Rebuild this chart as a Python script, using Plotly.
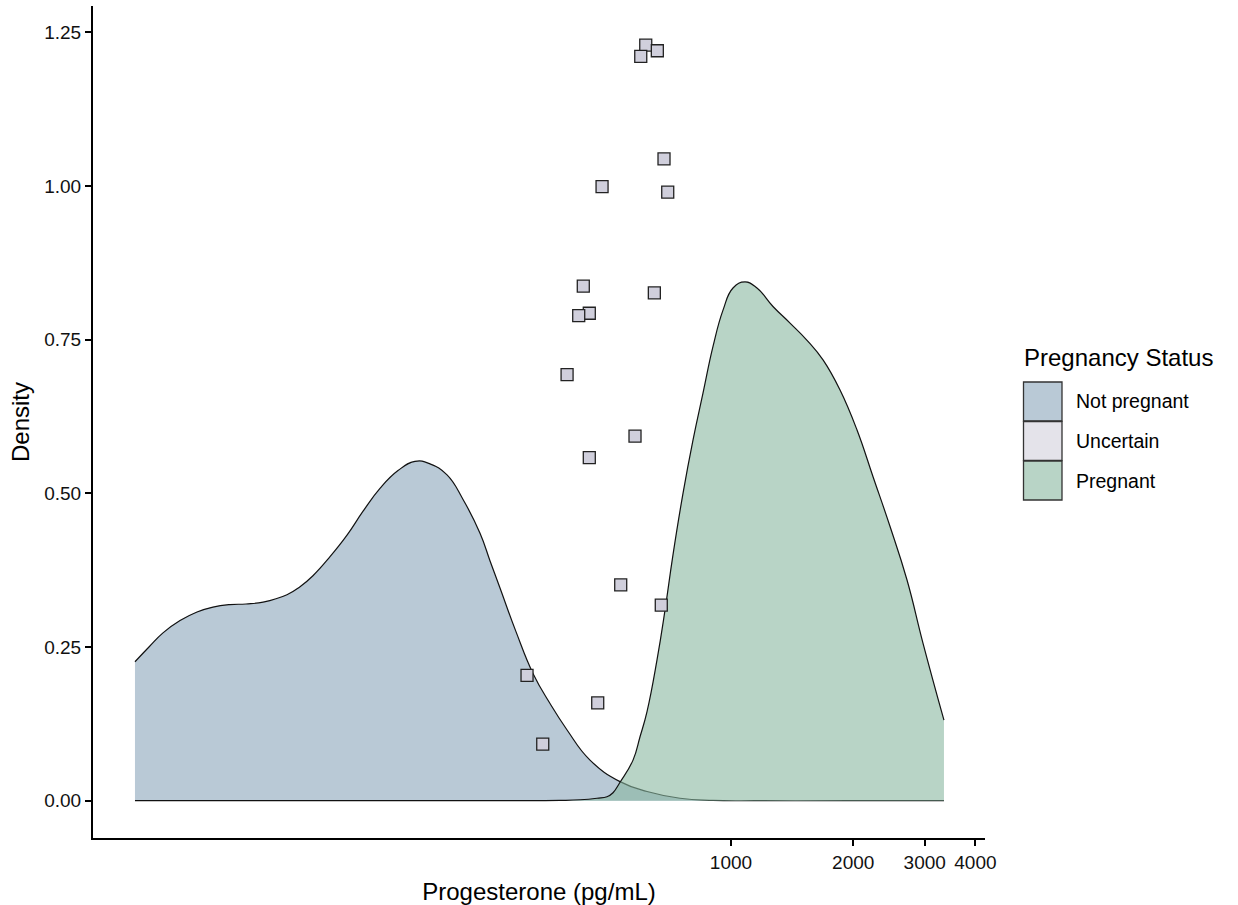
import plotly.graph_objects as go

# ---- data ----
# Not pregnant density (x in pg/mL, density)
np_x = [34.04, 36.85, 39.9, 43.95, 48.4, 52.97, 58.3, 63.9, 70.4, 80.6, 86.8, 93.4,
        102.9, 113.3, 124.1, 136.6, 151.3, 166.6, 181.4, 199.8, 218.8, 240.9, 255.0,
        269.8, 295.4, 325.3, 358.3, 394.7, 449.5, 532.9, 621.1, 748.8, 903.0, 1178.8,
        1964.0, 3346.0]
np_y = [0.226, 0.250, 0.273, 0.293, 0.307, 0.315, 0.319, 0.320, 0.323, 0.335, 0.348, 0.366,
        0.397, 0.432, 0.471, 0.508, 0.537, 0.552, 0.548, 0.530, 0.490, 0.435, 0.390,
        0.346, 0.275, 0.207, 0.158, 0.115, 0.066, 0.031, 0.015, 0.004, 0.0005, 0.0,
        0.0, 0.0]

# Pregnant density
pg_x = [34.04, 153.0, 379.3, 424.9, 467.7, 495.0, 512.2, 532.9, 573.7, 596.9, 621.1,
        657.3, 687.8, 719.6, 761.7, 806.3, 853.1, 903.0, 955.7, 1011.4, 1082.6, 1158.8,
        1268.9, 1397.7, 1539.1, 1685.3, 1855.9, 2043.5, 2237.8, 2464.6, 2713.6, 2971.6,
        3346.0]
pg_y = [0.0, 0.0, 0.0005, 0.0015, 0.004, 0.0065, 0.013, 0.030, 0.066, 0.104, 0.145,
        0.229, 0.310, 0.400, 0.500, 0.587, 0.663, 0.739, 0.798, 0.834, 0.844, 0.834,
        0.804, 0.777, 0.749, 0.717, 0.668, 0.603, 0.527, 0.446, 0.359, 0.256,
        0.131]

# Uncertain samples (points)
unc_x = [616.6, 658.5, 599.4, 683.9, 481.3, 698.5, 432.7, 647.4, 447.7, 421.6, 394.7,
         580.2, 447.7, 535.0, 673.4, 314.5, 469.6, 343.8]
unc_y = [1.229, 1.220, 1.211, 1.044, 0.999, 0.990, 0.837, 0.826, 0.793, 0.789, 0.693,
         0.593, 0.558, 0.351, 0.318, 0.204, 0.159, 0.092]

x_ticks = [1000, 2000, 3000, 4000]
x_tick_labels = ["1000", "2000", "3000", "4000"]
y_ticks = [0, 0.25, 0.5, 0.75, 1.0, 1.25]
y_tick_labels = ["0.00", "0.25", "0.50", "0.75", "1.00", "1.25"]

legend_labels = ["Not pregnant", "Uncertain", "Pregnant"]
legend_colors = ["#B9C9D6", "#E4E3EA", "#B8D4C6"]

FONT = "Liberation Sans, Arial, Helvetica, sans-serif"

fig = go.Figure()
fig.add_trace(go.Scatter(
    x=np_x, y=np_y, mode="lines", fill="tozeroy", name="Not pregnant",
    fillcolor="rgba(138,165,187,0.6)",
    line=dict(color="#111111", width=1.2, shape="spline", smoothing=1.3),
    showlegend=False, hoverinfo="skip"))
fig.add_trace(go.Scatter(
    x=pg_x, y=pg_y, mode="lines", fill="tozeroy", name="Pregnant",
    fillcolor="rgba(137,183,160,0.6)",
    line=dict(color="#111111", width=1.2, shape="spline", smoothing=1.3),
    showlegend=False, hoverinfo="skip"))
fig.add_trace(go.Scatter(
    x=unc_x, y=unc_y, mode="markers", name="Uncertain",
    marker=dict(symbol="square", size=12, color="#D0CFDC",
                line=dict(color="#222222", width=1.3)),
    showlegend=False))

# plot area geometry (pixels)
L, R, T, B = 93, 985, 6, 838
W, H = 1238, 905
pw, ph = R - L, B - T


def px(xp):
    return (xp - L) / pw


def py(yp):
    return (B - yp) / ph


shapes = []
annotations = []
annotations.append(dict(x=px(1022), y=py(357), xref="paper", yref="paper",
                        text="Pregnancy Status", showarrow=False, xanchor="left",
                        yanchor="middle", font=dict(family=FONT, size=24, color="#000000")))
box_tops = [382, 421.5, 461]
for lab, col, top in zip(legend_labels, legend_colors, box_tops):
    shapes.append(dict(type="rect", xref="paper", yref="paper",
                       x0=px(1023.5), x1=px(1062), y0=py(top), y1=py(top + 39),
                       fillcolor=col, line=dict(color="#333333", width=1.3)))
    annotations.append(dict(x=px(1074), y=py(top + 19.5), xref="paper", yref="paper",
                            text=lab, showarrow=False, xanchor="left", yanchor="middle",
                            font=dict(family=FONT, size=19.5, color="#000000")))

fig.update_layout(
    width=W, height=H,
    margin=dict(l=L, r=W - R, t=T, b=H - B, autoexpand=False),
    paper_bgcolor="white", plot_bgcolor="white",
    font=dict(family=FONT, color="#000000"),
    shapes=shapes, annotations=annotations,
    showlegend=False,
)
fig.update_xaxes(
    type="log", range=[1.4286, 3.6256],
    tickvals=x_ticks, ticktext=x_tick_labels,
    showgrid=False, zeroline=False,
    showline=True, linecolor="#000000", linewidth=2,
    ticks="outside", ticklen=6, tickwidth=2, tickcolor="#000000",
    tickfont=dict(family=FONT, size=19, color="#111111"),
    title=dict(text="Progesterone (pg/mL)", font=dict(family=FONT, size=24, color="#000000"),
               standoff=12),
)
fig.update_yaxes(
    range=[-0.0607, 1.2928],
    tickvals=y_ticks, ticktext=y_tick_labels,
    showgrid=False, zeroline=False,
    showline=True, linecolor="#000000", linewidth=2,
    ticks="outside", ticklen=6, tickwidth=2, tickcolor="#000000",
    tickfont=dict(family=FONT, size=19, color="#111111"),
    title=dict(text="Density", font=dict(family=FONT, size=24, color="#000000"),
               standoff=8),
)

fig.write_html("out.html")
